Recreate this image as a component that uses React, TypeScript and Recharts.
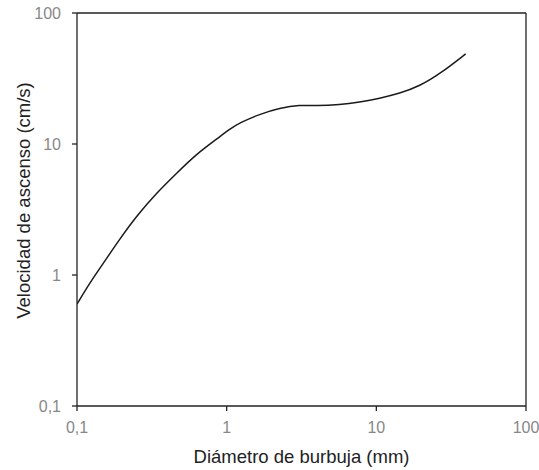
import React from "react";
import { LineChart, Line, XAxis, YAxis, ReferenceLine, Label } from "recharts";

// valores (escala log-log)
const diametro = [0.1, 0.1216, 0.1485, 0.193, 0.25, 0.34, 0.464, 0.63, 0.857, 1.05, 1.22, 1.66, 2.26, 3.07, 4.0, 5.69, 7.73, 10.5, 14.3, 19.5, 26.5, 39.5];
const velocidad = [0.6, 0.87, 1.21, 1.88, 2.82, 4.23, 6.0, 8.4, 10.9, 13.0, 14.5, 16.9, 18.8, 19.9, 19.5, 19.9, 20.9, 22.3, 24.3, 27.7, 34.2, 48.7];
const ticks = [0.1, 1, 10, 100];

const data = diametro.map((d, i) => ({ d, v: velocidad[i] }));

const fmt = (v: number) => String(v).replace(".", ",");

const tickStyle = { fontSize: 16, fill: "#888", fontFamily: "Liberation Sans, Arial, sans-serif" };
const labelStyle = { fontSize: 18.5, fill: "#222", fontFamily: "Liberation Sans, Arial, sans-serif" };

export default function App() {
  return (
    <div style={{ position: "absolute", left: 0, top: 0, background: "#fff" }}>
      <LineChart width={539} height={470} data={data} margin={{ top: 13, right: 13, bottom: 0, left: 0 }}>
        <XAxis
          dataKey="d"
          type="number"
          scale="log"
          domain={[0.1, 100]}
          ticks={ticks}
          tickFormatter={fmt}
          allowDataOverflow
          height={64}
          stroke="#222"
          strokeWidth={1.3}
          tickSize={5}
          tickMargin={11}
          tick={tickStyle}
        >
          <Label value="Diámetro de burbuja (mm)" position="insideBottom" offset={7} style={labelStyle} />
        </XAxis>
        <YAxis
          type="number"
          scale="log"
          domain={[0.1, 100]}
          ticks={ticks}
          tickFormatter={fmt}
          allowDataOverflow
          width={77}
          stroke="#222"
          strokeWidth={1.3}
          tickSize={5}
          tickMargin={11}
          tick={tickStyle}
        >
          <Label
            value="Velocidad de ascenso (cm/s)"
            angle={-90}
            position="insideLeft"
            offset={23}
            dy={-9}
            style={{ ...labelStyle, textAnchor: "middle" }}
          />
        </YAxis>
        <ReferenceLine y={100} stroke="#222" strokeWidth={1.3} />
        <ReferenceLine x={100} stroke="#222" strokeWidth={1.3} />
        <Line dataKey="v" type="basis" stroke="#1a1a1a" strokeWidth={1.5} dot={false} isAnimationActive={false} />
      </LineChart>
    </div>
  );
}
